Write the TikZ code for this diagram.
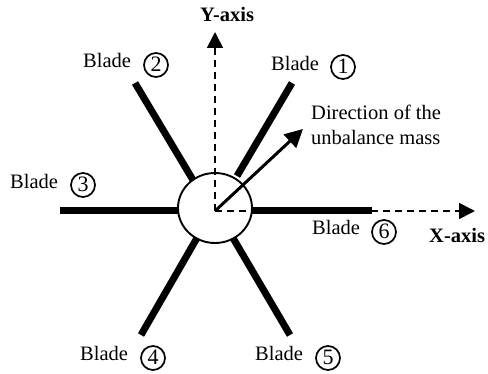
\documentclass[tikz,border=0pt]{standalone}
\usepackage{fontspec}
\setmainfont{Liberation Serif}
\usetikzlibrary{arrows.meta,shapes.geometric}
\tikzset{
  x=1pt,y=-1pt,
  bladeline/.style={line width=7pt,line cap=butt},
  axisline/.style={line width=1.7pt,dash pattern=on 7pt off 5pt},
  tipline/.style={line width=1.7pt,-{Triangle[length=16pt,width=16pt]}},
  dirline/.style={line width=3pt,-{Triangle[length=18pt,width=18pt]}},
  hubshape/.style={ellipse,draw,line width=1.9pt,minimum width=74pt,minimum height=70pt,inner sep=0pt},
  lbl/.style={anchor=base west,inner sep=0pt,font=\fontsize{20.5}{24}\selectfont},
  axlbl/.style={anchor=base west,inner sep=0pt,font=\fontsize{20.5}{24}\selectfont\bfseries},
  num/.style={circle,draw,line width=1.7pt,minimum size=24pt,inner sep=0pt,text depth=1.5pt,font=\fontsize{22}{24}\selectfont},
}
\begin{document}
\begin{tikzpicture}
\useasboundingbox (0,0) rectangle (488,374);
\node[hubshape] (hub) at (215,208) {};
\coordinate (o) at (215,211);
\coordinate (e1) at (292,83);
\coordinate (e2) at (135,83);
\coordinate (e3) at (60,211);
\coordinate (e4) at (141,335);
\coordinate (e5) at (290,335);
\coordinate (e6) at (372,211);
\coordinate (ytip) at (215,32);
\coordinate (yd) at (215,47);
\coordinate (xtip) at (475,211);
\coordinate (xd) at (459,211);
\coordinate (dtip) at (303,129);
\draw[bladeline] (e1) -- (237,176);
\draw[bladeline] (e2) -- (193,180);
\draw[bladeline] (e3) -- (178,211);
\draw[bladeline] (e4) -- (197,238);
\draw[bladeline] (e5) -- (233,238);
\draw[bladeline] (e6) -- (252,211);
\draw[axisline] (o) -- (yd);
\draw[axisline] (o) -- (xd);
\draw[tipline] (215,48) -- (ytip);
\draw[tipline] (459,211) -- (xtip);
\draw[dirline] (o) -- (dtip);
\node[axlbl] (ylab) at (200,22) {Y-axis};
\node[axlbl] (xlab) at (429,243) {X-axis};
\node[lbl] (d1) at (311,120) {Direction of the};
\node[lbl] (d2) at (311,145) {unbalance mass};
\node[lbl] (b1) at (271,71) {Blade};
\node[num] (n1) at (343,67) {1};
\node[lbl] (b2) at (83,68) {Blade};
\node[num] (n2) at (156,65) {2};
\node[lbl] (b3) at (10,189) {Blade};
\node[num] (n3) at (83,185) {3};
\node[lbl] (b4) at (80,361) {Blade};
\node[num] (n4) at (153,358) {4};
\node[lbl] (b5) at (255,361) {Blade};
\node[num] (n5) at (328,358) {5};
\node[lbl] (b6) at (312,235) {Blade};
\node[num] (n6) at (384,232) {6};
\end{tikzpicture}
\end{document}
